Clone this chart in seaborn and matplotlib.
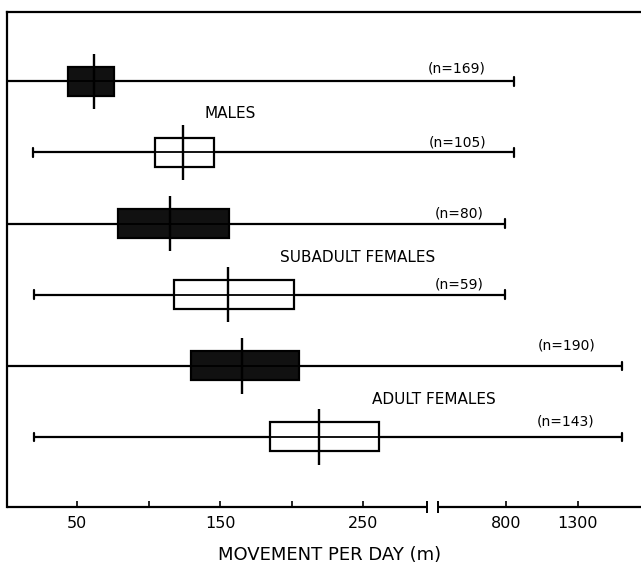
import numpy as np
import pandas as pd
import matplotlib
matplotlib.use("Agg")
import matplotlib.pyplot as plt
import seaborn as sns

# ---------------- data ----------------
rows = ["Males (A)", "Males (B)", "Subadult females (A)", "Subadult females (B)",
        "Adult females (A)", "Adult females (B)"]
shade = ["filled", "open", "filled", "open", "filled", "open"]
mins = [0, 19, 0, 20, 0, 20]
q1 = [44, 104.6, 78.7, 118, 129.6, 185]
medians = [61.5, 124.4, 114.7, 155.2, 165, 219]
q3 = [76, 145.4, 156.4, 201.7, 205.2, 261.2]
maxs = [855, 855, 790, 790, 1610, 1610]
n_obs = [169, 105, 80, 59, 190, 143]
group_titles = ["MALES", "SUBADULT FEMALES", "ADULT FEMALES"]
major_ticks = [50, 150, 250, 800, 1300]
minor_ticks = [100, 200]

# long-form table: five summary values per row reproduce the box exactly
recs = []
for r, s, a, b, c, d, e in zip(rows, shade, mins, q1, medians, q3, maxs):
    for v in (a, b, c, d, e):
        recs.append({"row": r, "shade": s, "value": v})
df = pd.DataFrame(recs)

sns.set_style("white")
plt.rcParams["font.family"] = ["DejaVu Sans"]
plt.rcParams["axes.edgecolor"] = "black"
plt.rcParams["text.color"] = "black"
plt.rcParams["axes.labelcolor"] = "black"
plt.rcParams["xtick.color"] = "black"

fig = plt.figure(figsize=(6.41, 5.70), dpi=100)
ax = fig.add_axes([7 / 641, 1 - 507.3 / 570, 1 - 7 / 641, (507.3 - 11.7) / 570])

sns.boxplot(data=df, x="value", y="row", hue="shade", order=rows,
            palette={"filled": "#111111", "open": "white"}, dodge=False,
            width=0.41, whis=(0, 100), linecolor="black", linewidth=1.6,
            legend=False, medianprops={"visible": False}, capwidths=0.12, ax=ax)

pos = np.arange(len(rows))
# full-range whisker line (runs through the open boxes too)
ax.hlines(pos, mins, maxs, color="black", lw=1.3, zorder=3.5)
# tall median bars
ax.vlines(medians, pos - 0.39, pos + 0.39, color="black", lw=1.7, zorder=4)

# broken x axis: linear to 300, compressed (x0.1) beyond
B, K = 300.0, 0.1
def fwd(v):
    v = np.asarray(v, dtype=float)
    return np.where(v <= B, v, B + (v - B) * K)
def inv(p):
    p = np.asarray(p, dtype=float)
    return np.where(p <= B, p, B + (p - B) / K)
ax.set_xscale("function", functions=(fwd, inv))
xlo, xhi = 1, 1743
ax.set_xlim(xlo, xhi)
ax.set_ylim(5.99, -0.98)

ax.set_xticks(major_ticks)
ax.set_xticklabels([str(t) for t in major_ticks])
ax.set_xticks(minor_ticks, minor=True)
ax.tick_params(axis="x", which="both", direction="in", length=4, width=1.2,
               pad=6, labelsize=11.5, colors="black", bottom=True)
ax.set_yticks([])
ax.set_ylabel("")

for sp in ("left", "top"):
    ax.spines[sp].set_linewidth(1.6)
ax.spines["right"].set_visible(False)
ax.spines["bottom"].set_visible(False)

trans = ax.get_xaxis_transform()
brk_lo, brk_hi = 295, 323
ax.plot([xlo, brk_lo], [0, 0], transform=trans, color="black", lw=1.6,
        clip_on=False, solid_capstyle="butt")
ax.plot([brk_hi, xhi], [0, 0], transform=trans, color="black", lw=1.6,
        clip_on=False, solid_capstyle="butt")
ax.plot([brk_lo, brk_hi], [0, 0], transform=trans, ls="none", marker="|",
        ms=8, mew=1.4, color="black", clip_on=False)

ax.set_xlabel("MOVEMENT PER DAY (m)", fontsize=13, color="black")
ax.xaxis.set_label_coords(0.508, -0.079)

# annotations
n_x = [295, 296, 302, 302, 1020, 1015]
n_y = [-0.18, 0.86, 1.86, 2.86, 3.72, 4.79]
for n, x, y in zip(n_obs, n_x, n_y):
    ax.text(x, y, f"(n={n})", ha="left", va="center", fontsize=10, color="black")
title_x = [139, 192, 256]
title_y = [0.45, 2.47, 4.48]
for t, x, y in zip(group_titles, title_x, title_y):
    ax.text(x, y, t, ha="left", va="center", fontsize=11, color="black")

fig.savefig("out.png", dpi=100)
